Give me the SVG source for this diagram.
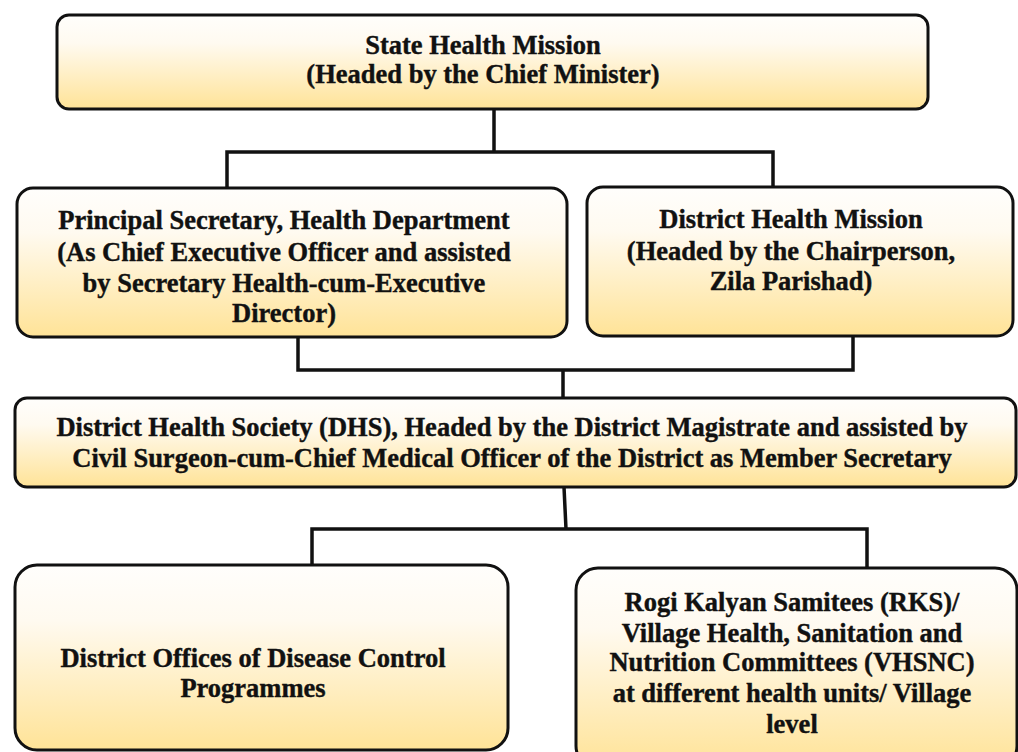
<svg xmlns="http://www.w3.org/2000/svg" width="1018" height="752" viewBox="0 0 1018 752">
<defs>
<linearGradient id="g" x1="0" y1="0" x2="0" y2="1">
<stop offset="0" stop-color="#fffefc"/>
<stop offset="0.3" stop-color="#fffaf0"/>
<stop offset="1" stop-color="#ffe397"/>
</linearGradient>
<style>
.box{fill:url(#g);stroke:#111;stroke-width:3}
.t{font-family:"Liberation Serif","Times New Roman",serif;font-weight:bold;font-size:26.5px;fill:#111;stroke:#111;stroke-width:0.4px;text-anchor:middle}
.c{fill:none;stroke:#111;stroke-width:3.5;stroke-linejoin:miter;stroke-linecap:butt}
</style>
</defs>
<rect width="1018" height="752" fill="#fff"/>
<g id="connectors">
<path class="c" d="M494,110 V152 M227,190 V152 H773 V190"/>
<path class="c" d="M298,337 V370 H853 V336 M563,370 V398"/>
<path class="c" d="M564,487 L566,529 M312,566 V529 H867 V568"/>
</g>
<g id="state-health-mission">
<rect class="box" x="57" y="15" width="871" height="94" rx="12"/>
<text class="t" x="483" y="54">State Health Mission</text>
<text class="t" x="483" y="83">(Headed by the Chief Minister)</text>
</g>
<g id="principal-secretary">
<rect class="box" x="17" y="188" width="550" height="149" rx="16"/>
<text class="t" x="284" y="229">Principal Secretary, Health Department</text>
<text class="t" x="284" y="261">(As Chief Executive Officer and assisted</text>
<text class="t" x="284" y="292">by Secretary Health-cum-Executive</text>
<text class="t" x="284" y="322">Director)</text>
</g>
<g id="district-health-mission">
<rect class="box" x="587" y="187" width="426" height="149" rx="16"/>
<text class="t" x="791" y="228">District Health Mission</text>
<text class="t" x="791" y="260">(Headed by the Chairperson,</text>
<text class="t" x="791" y="290">Zila Parishad)</text>
</g>
<g id="district-health-society">
<rect class="box" x="15" y="398" width="1001" height="89" rx="12"/>
<text class="t" x="512" y="436">District Health Society (DHS), Headed by the District Magistrate and assisted by</text>
<text class="t" x="512" y="467">Civil Surgeon-cum-Chief Medical Officer of the District as Member Secretary</text>
</g>
<g id="district-offices">
<rect class="box" x="15" y="565" width="493" height="185" rx="22"/>
<text class="t" x="253" y="667">District Offices of Disease Control</text>
<text class="t" x="253" y="697">Programmes</text>
</g>
<g id="rks-vhsnc">
<rect class="box" x="576" y="568" width="441" height="200" rx="22"/>
<text class="t" x="792" y="611">Rogi Kalyan Samitees (RKS)/</text>
<text class="t" x="792" y="642">Village Health, Sanitation and</text>
<text class="t" x="792" y="671">Nutrition Committees (VHSNC)</text>
<text class="t" x="792" y="702">at different health units/ Village</text>
<text class="t" x="792" y="733">level</text>
</g>
</svg>
